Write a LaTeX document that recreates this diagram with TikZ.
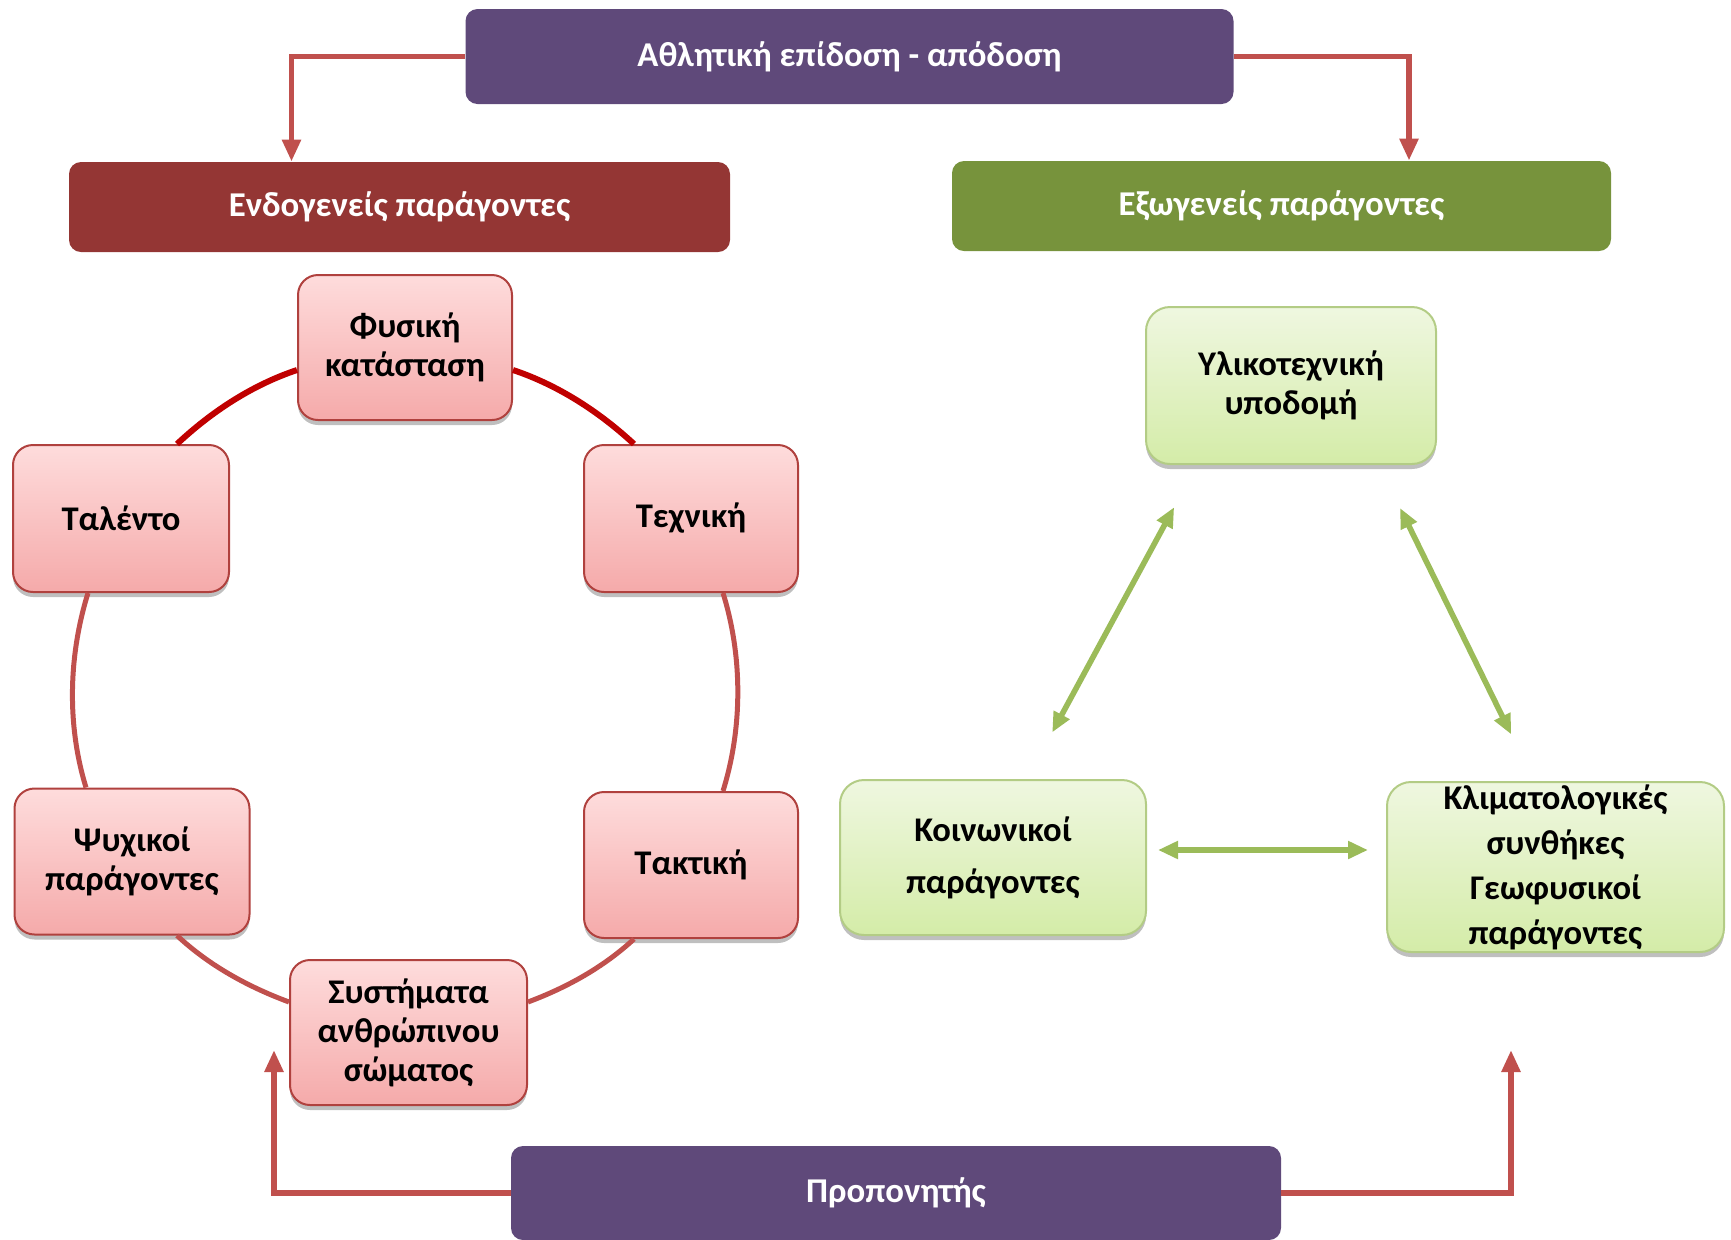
\documentclass[tikz,border=0pt]{standalone}
\usepackage{fontspec}
\setmainfont{Carlito}
\usepackage{tikz}
\usetikzlibrary{shapes,shadows,calc}
\usetikzlibrary{positioning,arrows.meta}

\definecolor{perfpurple}{HTML}{5F497A}
\definecolor{endored}{HTML}{943634}
\definecolor{exogreen}{HTML}{77933C}
\definecolor{linkred}{HTML}{C0504D}
\definecolor{ringred}{HTML}{C00000}
\definecolor{linkgreen}{HTML}{9BBB59}
\definecolor{pinktop}{HTML}{FEDCDC}
\definecolor{pinkbot}{HTML}{F5AAAA}
\definecolor{pinkline}{HTML}{B0413E}
\definecolor{lighttop}{HTML}{EFF7E0}
\definecolor{lightbot}{HTML}{D4ECA8}
\definecolor{lightline}{HTML}{B3CC85}

\begin{document}
\begin{tikzpicture}[x=0.5pt, y=0.5pt,
	head/.style={rectangle, rounded corners=6pt, fill=#1, text=white, inner sep=0pt, font=\fontsize{17.4}{20}\selectfont\bfseries},
	endobox/.style={rectangle, rounded corners=10pt, draw=pinkline, line width=1pt, top color=pinktop, bottom color=pinkbot, align=center, inner sep=0pt,
		drop shadow={shadow xshift=0pt, shadow yshift=-2.5pt, opacity=0.25, fill=black}, font=\fontsize{17.3}{19.5}\selectfont\bfseries},
	exobox/.style={rectangle, rounded corners=12pt, draw=lightline, line width=1pt, top color=lighttop, bottom color=lightbot, align=center, inner sep=0pt,
		drop shadow={shadow xshift=0pt, shadow yshift=-2.5pt, opacity=0.25, fill=black}, font=\fontsize{17.3}{19.5}\selectfont\bfseries},
	ringdark/.style={draw=ringred, line width=3pt, looseness=0.86},
	ringlight/.style={draw=linkred, line width=2.5pt, looseness=0.86},
	redarrow/.style={draw=linkred, line width=2.8pt, -{Triangle[length=11pt, width=9pt]}},
	greenarrow/.style={draw=linkgreen, line width=2.8pt, {Triangle[length=10pt, width=8.5pt]}-{Triangle[length=10pt, width=8.5pt]}}]
	\useasboundingbox (0,0) rectangle (1731,-1239);

	% headers
	\node[head=perfpurple, minimum width=384pt, minimum height=47.5pt] (perf)	at (849.5,-56.5)	{Αθλητική επίδοση - απόδοση};
	\node[head=endored, minimum width=330.5pt, minimum height=45pt] (endo)	at (399.5,-207)		{Ενδογενείς παράγοντες};
	\node[head=exogreen, minimum width=329.5pt, minimum height=45pt] (exo)	at (1281.5,-206)	{Εξωγενείς παράγοντες};
	\node[head=perfpurple, minimum width=385pt, minimum height=47pt] (coach)	at (896,-1193)		{Προπονητής};

	% the cycle
	\node[endobox, minimum width=107pt, minimum height=72.5pt] (fys)	at (405,-347.5)			{Φυσική\\κατάσταση};
	\node[endobox, minimum width=108pt, minimum height=73.5pt] (tal)	at (121,-518.5)			{Ταλέντο};
	\node[endobox, minimum width=107pt, minimum height=73.5pt] (tex)	[right=176.5pt of tal]	{Τεχνική};
	\node[endobox, minimum width=117.5pt, minimum height=73pt] (psy)	at (132,-861.5)			{Ψυχικοί\\παράγοντες};
	\node[endobox, minimum width=107pt, minimum height=73pt] (tak)		[below=99pt of tex]		{Τακτική};
	\node[endobox, minimum width=118.5pt, minimum height=72.5pt] (sys)	at (408.5,-1032.5)		{Συστήματα\\ανθρώπινου\\σώματος};

	\path	([yshift=-11.25pt]fys.west) edge[ringdark, out=198.5, in=43.1]		([xshift=28pt]tal.north)
	([xshift=-28.5pt]tex.north) edge[ringdark, out=137.2, in=341.5]			([yshift=-11.25pt]fys.east)
	([xshift=-16.5pt]tal.south) edge[ringlight, out=252.7, in=107.1]		([xshift=-23pt]psy.north)
	([xshift=22.5pt]psy.south) edge[ringlight, out=316.9, in=159.6]			([yshift=15.25pt]sys.west)
	([yshift=15.25pt]sys.east) edge[ringlight, out=20.5, in=222.8]			([xshift=-28.5pt]tak.south)
	([xshift=16pt]tak.north) edge[ringlight, out=72.7, in=287.3]			([xshift=16pt]tex.south);

	% the triangle
	\node[exobox, minimum width=145pt, minimum height=78.5pt] (ylik)	at (1291,-385.5)	{Υλικοτεχνική\\υποδομή};
	\node[exobox, minimum width=153pt, minimum height=77.5pt] (koin)	at (993,-857.5)		{Κοινωνικοί\\[6.5pt]παράγοντες};
	\node[exobox, minimum width=168.5pt, minimum height=85pt] (klim)	at (1555.5,-867)	{Κλιματολογικές\\[3pt]συνθήκες\\[3pt]Γεωφυσικοί\\[3pt]παράγοντες};

	\draw[greenarrow, shorten <=24pt, shorten >=26.5pt] ($(ylik.south west)+(52,0)$) -- ($(koin.north west)+(188,0)$);
	\draw[greenarrow, shorten <=24pt, shorten >=26pt] ($(ylik.south west)+(234,0)$) -- ($(klim.north west)+(148,0)$);
	\draw[greenarrow, shorten <=5.5pt, shorten >=9pt] ($(koin.east)+(0,7.5)$) -- ($(klim.west)+(0,17)$);

	% arrows from the top and the bottom
	\coordinate (left end) at (274,-1050);
	\coordinate (right end) at (1511,-1050);
	\draw[redarrow] (perf.west) -| ($(endo.north)+(-108,0)$);
	\draw[redarrow] (perf.east) -| ($(exo.north)+(127.5,0)$);
	\draw[redarrow] (coach.west) -| (left end);
	\draw[redarrow] (coach.east) -| (right end);
\end{tikzpicture}
\end{document}
